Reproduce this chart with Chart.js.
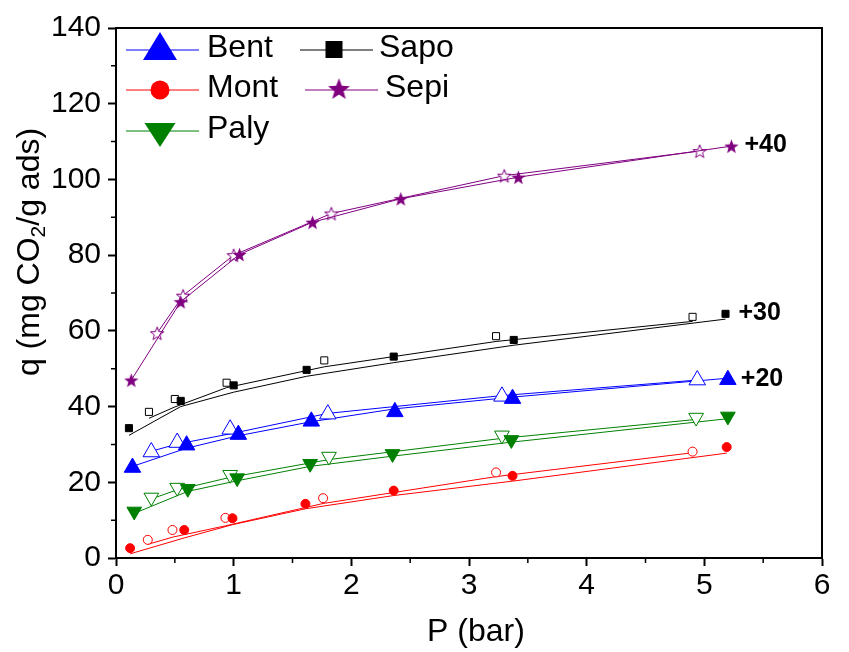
<!DOCTYPE html>
<html>
<head>
<meta charset="utf-8">
<script src="https://cdn.jsdelivr.net/npm/chart.js@4.4.1/dist/chart.umd.min.js"></script>
<style>
  html, body { margin: 0; padding: 0; background: #fff; }
  #wrap { width: 849px; height: 652px; }
</style>
</head>
<body>
<div id="wrap"><canvas id="graph1" width="849" height="652"></canvas></div>
<script>
// ---- data (P in bar, q in mg CO2/g ads) ----
// filled symbols = adsorption, open symbols = desorption, fit = thin lines
const bentP = [0.14, 0.60, 1.04, 1.66, 2.37, 3.37, 5.20];
const bentQ = [23.9, 29.8, 32.6, 36.1, 38.6, 42.1, 47.1];
const bentFitQ = [24.2, 29.0, 32.3, 36.0, 39.4, 42.5, 47.5];
const bentDesP = [0.30, 0.52, 0.97, 1.80, 3.28, 4.94];
const bentDesQ = [28.0, 30.5, 34.0, 38.0, 42.7, 47.0];
const bentDesFitQ = [28.2, 30.1, 32.8, 38.2, 42.9, 47.0];

const montP = [0.12, 0.58, 0.99, 1.61, 2.36, 3.37, 5.19];
const montQ = [2.6, 7.4, 10.5, 14.3, 17.8, 21.7, 29.3];
const montFitQ = [1.1, 5.3, 8.8, 13.0, 16.5, 20.3, 27.7];
const montDesP = [0.27, 0.48, 0.93, 1.76, 3.23, 4.90];
const montDesQ = [4.8, 7.4, 10.6, 15.8, 22.6, 28.1];
const montDesFitQ = [3.6, 5.5, 8.5, 14.4, 21.5, 27.8];

const palyP = [0.155, 0.61, 1.03, 1.65, 2.35, 3.36, 5.20];
const palyQ = [12.3, 18.3, 21.1, 24.9, 27.5, 31.2, 37.4];
const palyFitQ = [11.8, 17.6, 20.4, 24.2, 26.9, 30.6, 36.8];
const palyDesP = [0.30, 0.52, 0.97, 1.81, 3.28, 4.93];
const palyDesQ = [16.0, 18.6, 22.0, 26.8, 32.4, 37.1];
const palyDesFitQ = [15.6, 18.0, 21.3, 26.0, 31.6, 36.6];

const sapoP = [0.11, 0.55, 1.00, 1.62, 2.36, 3.38, 5.18];
const sapoQ = [34.3, 41.5, 45.6, 49.7, 53.2, 57.6, 64.5];
const sapoFitQ = [32.4, 40.0, 43.8, 48.0, 51.6, 56.2, 63.1];
const sapoDesP = [0.28, 0.50, 0.94, 1.77, 3.23, 4.90];
const sapoDesQ = [38.6, 42.0, 46.3, 52.2, 58.6, 63.7];
const sapoDesFitQ = [36.9, 39.9, 45.0, 50.5, 57.2, 62.5];

const sepiP = [0.13, 0.55, 1.05, 1.67, 2.42, 3.42, 5.23];
const sepiQ = [47.0, 67.7, 80.2, 88.7, 94.9, 100.6, 108.8];
const sepiDesP = [0.35, 0.57, 1.00, 1.83, 3.30, 4.96];
const sepiDesQ = [59.4, 69.3, 80.0, 91.0, 101.0, 107.5];

// offsets written next to the curves
const offsetLabels = ['+40', '+30', '+20'];

const xTicks = [0, 1, 2, 3, 4, 5, 6];
const yTicks = [0, 20, 40, 60, 80, 100, 120, 140];

const BLUE = '#0000ff', RED = '#ff0000', GREEN = '#008000', BLACK = '#000000', PURPLE = '#800080';
const FONT = "'Liberation Sans', Arial, sans-serif";

function pts(xs, ys) {
  return xs.map((x, i) => ({ x: x, y: ys[i] }));
}

// chart.js 'star' is a line asterisk, so build a filled star as a canvas
function makeStar(size, fill, stroke) {
  const c = document.createElement('canvas');
  c.width = size; c.height = size;
  const g = c.getContext('2d');
  const cx = size / 2, cy = size / 2 + size * 0.05, R = size / 2 - 1, r = R * 0.42;
  g.beginPath();
  for (let i = 0; i < 10; i++) {
    const a = -Math.PI / 2 + i * Math.PI / 5;
    const rr = i % 2 ? r : R;
    g.lineTo(cx + rr * Math.cos(a), cy + rr * Math.sin(a));
  }
  g.closePath();
  g.fillStyle = fill;
  g.fill();
  if (stroke) { g.strokeStyle = stroke; g.lineWidth = 1; g.stroke(); }
  return c;
}
const starFilled = makeStar(17, PURPLE);
const starOpen = makeStar(16, '#fff', PURPLE);
const starLegend = makeStar(25, PURPLE);

function markers(label, xs, ys, color, open, style, radius, rotation) {
  return {
    label: label,
    data: pts(xs, ys),
    showLine: false,
    pointStyle: style,
    pointRadius: radius,
    pointRotation: rotation || 0,
    pointBackgroundColor: open ? '#fff' : color,
    pointBorderColor: color,
    pointBorderWidth: 1,
    order: 0
  };
}

function fit(xs, ys, color) {
  return {
    data: pts(xs, ys),
    showLine: true,
    pointRadius: 0,
    borderColor: color,
    borderWidth: 1,
    tension: 0,
    order: 1
  };
}

const datasets = [
  markers('Bent', bentP, bentQ, BLUE, false, 'triangle', 9.5),
  markers('Bent des', bentDesP, bentDesQ, BLUE, true, 'triangle', 9.5),
  markers('Mont', montP, montQ, RED, false, 'circle', 4.5),
  markers('Mont des', montDesP, montDesQ, RED, true, 'circle', 4.5),
  markers('Paly', palyP, palyQ, GREEN, false, 'triangle', 8.5, 180),
  markers('Paly des', palyDesP, palyDesQ, GREEN, true, 'triangle', 8.5, 180),
  markers('Sapo', sapoP, sapoQ, BLACK, false, 'rect', 5),
  markers('Sapo des', sapoDesP, sapoDesQ, BLACK, true, 'rect', 5),
  Object.assign(markers('Sepi', sepiP, sepiQ, PURPLE, false, starFilled, 8),
    { showLine: true, borderColor: PURPLE, borderWidth: 1 }),
  Object.assign(markers('Sepi des', sepiDesP, sepiDesQ, PURPLE, true, starOpen, 8),
    { showLine: true, borderColor: PURPLE, borderWidth: 1, order: 1 }),
  fit(bentP, bentFitQ, BLUE),
  fit(bentDesP, bentDesFitQ, BLUE),
  fit(montP, montFitQ, RED),
  fit(montDesP, montDesFitQ, RED),
  fit(palyP, palyFitQ, GREEN),
  fit(palyDesP, palyDesFitQ, GREEN),
  fit(sapoP, sapoFitQ, BLACK),
  fit(sapoDesP, sapoDesFitQ, BLACK)
];

// legend drawn inside the plot, Origin style (two columns)
const legendItems = [
  { label: 'Bent', color: BLUE, shape: 'up', x1: 126, x2: 199, mx: 160, tx: 207, y: 50 },
  { label: 'Mont', color: RED, shape: 'circle', x1: 126, x2: 199, mx: 160, tx: 207, y: 90 },
  { label: 'Paly', color: GREEN, shape: 'down', x1: 126, x2: 199, mx: 160, tx: 207, y: 131 },
  { label: 'Sapo', color: BLACK, shape: 'square', x1: 300, x2: 373, mx: 334, tx: 379, y: 50 },
  { label: 'Sepi', color: PURPLE, shape: 'star', x1: 305, x2: 378, mx: 339, tx: 385, y: 90 }
];

const legendPlugin = {
  id: 'originLegend',
  afterDraw(chart) {
    const ctx = chart.ctx;
    ctx.save();
    legendItems.forEach(it => {
      ctx.strokeStyle = it.color;
      ctx.lineWidth = 1;
      ctx.beginPath();
      ctx.moveTo(it.x1, it.y);
      ctx.lineTo(it.x2, it.y);
      ctx.stroke();
      ctx.fillStyle = it.color;
      ctx.beginPath();
      if (it.shape === 'up') {
        ctx.moveTo(it.mx, it.y - 18);
        ctx.lineTo(it.mx + 17, it.y + 10);
        ctx.lineTo(it.mx - 17, it.y + 10);
        ctx.closePath();
        ctx.fill();
      } else if (it.shape === 'down') {
        ctx.moveTo(it.mx, it.y + 16);
        ctx.lineTo(it.mx + 15.5, it.y - 8);
        ctx.lineTo(it.mx - 15.5, it.y - 8);
        ctx.closePath();
        ctx.fill();
      } else if (it.shape === 'circle') {
        ctx.arc(it.mx, it.y, 9.5, 0, Math.PI * 2);
        ctx.fill();
      } else if (it.shape === 'square') {
        ctx.fillRect(it.mx - 8.5, it.y - 9, 17, 17);
      } else if (it.shape === 'star') {
        ctx.drawImage(starLegend, it.mx - 12.5, it.y - 14);
      }
      ctx.fillStyle = '#000';
      ctx.font = '32px ' + FONT;
      ctx.textBaseline = 'middle';
      ctx.textAlign = 'left';
      ctx.fillText(it.label, it.tx, it.y - 2);
    });
    ctx.restore();
  }
};

// axis titles (Origin places the y title above centre), frame, minor ticks, offsets
const framePlugin = {
  id: 'frame',
  afterDraw(chart) {
    const { ctx, chartArea: a, scales } = chart;
    const x = scales.x, y = scales.y;
    ctx.save();
    ctx.strokeStyle = '#000';
    ctx.lineWidth = 2;
    ctx.beginPath();
    ctx.moveTo(a.left, a.top);
    ctx.lineTo(a.right, a.top);
    ctx.lineTo(a.right, a.bottom);
    ctx.stroke();

    ctx.lineWidth = 1.5;
    ctx.beginPath();
    for (let i = 0; i < yTicks.length - 1; i++) {
      const py = y.getPixelForValue((yTicks[i] + yTicks[i + 1]) / 2);
      ctx.moveTo(a.left - 5, py);
      ctx.lineTo(a.left, py);
    }
    for (let i = 0; i < xTicks.length - 1; i++) {
      const px = x.getPixelForValue((xTicks[i] + xTicks[i + 1]) / 2);
      ctx.moveTo(px, a.bottom);
      ctx.lineTo(px, a.bottom + 5);
    }
    ctx.stroke();

    const ends = [
      [sepiP[sepiP.length - 1], sepiQ[sepiQ.length - 1]],
      [sapoP[sapoP.length - 1], sapoQ[sapoQ.length - 1]],
      [bentP[bentP.length - 1], bentQ[bentQ.length - 1]]
    ];
    ctx.fillStyle = '#000';
    ctx.font = 'bold 25px ' + FONT;
    ctx.textBaseline = 'middle';
    ctx.textAlign = 'left';
    ends.forEach((e, i) => {
      ctx.fillText(offsetLabels[i], x.getPixelForValue(e[0]) + 13, y.getPixelForValue(e[1]) - 1);
    });

    // x title
    ctx.font = '32px ' + FONT;
    ctx.textAlign = 'center';
    ctx.fillText('P (bar)', 476, 632);

    // y title with subscript 2
    const parts = [['q (mg CO', 32, 0], ['2', 21, 9], ['/g ads)', 32, 0]];
    let total = 0;
    parts.forEach(p => { ctx.font = p[1] + 'px ' + FONT; total += ctx.measureText(p[0]).width; });
    ctx.translate(30, 252);
    ctx.rotate(-Math.PI / 2);
    ctx.textAlign = 'left';
    let cx = -total / 2;
    parts.forEach(p => {
      ctx.font = p[1] + 'px ' + FONT;
      ctx.fillText(p[0], cx, p[2]);
      cx += ctx.measureText(p[0]).width;
    });
    ctx.restore();
  }
};

new Chart(document.getElementById('graph1'), {
  type: 'scatter',
  data: { datasets: datasets },
  options: {
    responsive: false,
    animation: false,
    layout: { padding: { left: 0, right: 27, top: 28, bottom: 0 } },
    plugins: {
      legend: { display: false },
      tooltip: { enabled: false }
    },
    scales: {
      x: {
        type: 'linear',
        min: xTicks[0],
        max: xTicks[xTicks.length - 1],
        afterBuildTicks: s => { s.ticks = xTicks.map(v => ({ value: v })); },
        ticks: { color: '#000', font: { family: FONT, size: 30 }, padding: 2 },
        grid: { drawOnChartArea: false, drawTicks: true, tickLength: 8, tickWidth: 2, color: '#000' },
        border: { display: true, color: '#000', width: 2 },
        title: { display: false },
        afterFit: s => { s.height = 94; }
      },
      y: {
        type: 'linear',
        min: yTicks[0],
        max: yTicks[yTicks.length - 1],
        afterBuildTicks: s => { s.ticks = yTicks.map(v => ({ value: v })); },
        ticks: { color: '#000', font: { family: FONT, size: 30 }, padding: 7 },
        grid: { drawOnChartArea: false, drawTicks: true, tickLength: 8, tickWidth: 2, color: '#000' },
        border: { display: true, color: '#000', width: 2 },
        title: { display: false },
        afterFit: s => { s.width = 116; }
      }
    }
  },
  plugins: [legendPlugin, framePlugin]
});
</script>
</body>
</html>
